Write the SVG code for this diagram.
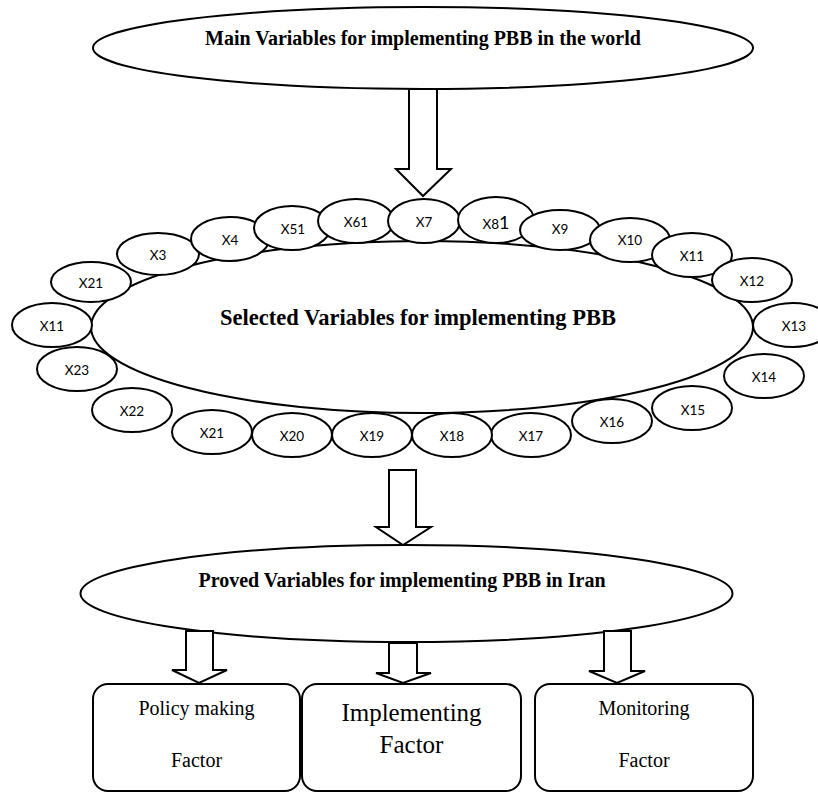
<svg xmlns="http://www.w3.org/2000/svg" width="818" height="793" viewBox="0 0 818 793">
<style>
.shape{fill:#fff;stroke:#000;stroke-width:2}
.big{font-family:'Liberation Serif','Times New Roman',serif;font-weight:bold;font-size:20px;text-anchor:middle;fill:#000}
.sel{font-size:22.5px}
.var{font-family:Lato,'Liberation Sans',sans-serif;font-size:13.5px;text-anchor:middle;fill:#000}
.box{font-family:'Liberation Serif','Times New Roman',serif;font-size:20px;text-anchor:middle;fill:#000}
.boxl{font-family:'Liberation Serif','Times New Roman',serif;font-size:25px;text-anchor:middle;fill:#000}
.one{font-size:18px}
</style>
<rect width="818" height="793" fill="#fff"/>
<g id="main">
<ellipse class="shape" cx="423" cy="48" rx="330" ry="41"/>
<text class="big" x="423" y="45">Main Variables for implementing PBB in the world</text>
</g>
<g id="selected">
<ellipse class="shape" cx="422" cy="327" rx="331" ry="86"/>
<text class="big sel" x="418" y="325">Selected Variables for implementing PBB</text>
</g>
<g id="variables">
<g id="v-x3"><ellipse class="shape" cx="158" cy="254" rx="41" ry="21"/><text class="var" x="158" y="260">X3</text></g>
<g id="v-x4"><ellipse class="shape" cx="230" cy="239" rx="39" ry="22"/><text class="var" x="230" y="245">X4</text></g>
<g id="v-x51"><ellipse class="shape" cx="292" cy="228" rx="38" ry="22"/><text class="var" x="293" y="234">X51</text></g>
<g id="v-x61"><ellipse class="shape" cx="356" cy="221" rx="38" ry="22"/><text class="var" x="356" y="227">X61</text></g>
<g id="v-x7"><ellipse class="shape" cx="424" cy="221" rx="36" ry="22"/><text class="var" x="424" y="227">X7</text></g>
<g id="v-x81"><ellipse class="shape" cx="496" cy="220" rx="38" ry="23"/><text class="var" x="496" y="229">X8<tspan class="one">1</tspan></text></g>
<g id="v-x9"><ellipse class="shape" cx="560" cy="230" rx="40" ry="20"/><text class="var" x="560" y="234">X9</text></g>
<g id="v-x10"><ellipse class="shape" cx="630" cy="240" rx="40" ry="22"/><text class="var" x="630" y="245">X10</text></g>
<g id="v-x11r"><ellipse class="shape" cx="692" cy="255" rx="40" ry="22"/><text class="var" x="692" y="261">X11</text></g>
<g id="v-x12"><ellipse class="shape" cx="752" cy="280" rx="40" ry="22"/><text class="var" x="752" y="286">X12</text></g>
<g id="v-x13"><ellipse class="shape" cx="793" cy="325" rx="40" ry="22"/><text class="var" x="794" y="331">X13</text></g>
<g id="v-x14"><ellipse class="shape" cx="764" cy="376" rx="40" ry="22"/><text class="var" x="764" y="382">X14</text></g>
<g id="v-x15"><ellipse class="shape" cx="692" cy="408" rx="40" ry="22"/><text class="var" x="693" y="415">X15</text></g>
<g id="v-x16"><ellipse class="shape" cx="612" cy="421" rx="40" ry="22"/><text class="var" x="612" y="427">X16</text></g>
<g id="v-x17"><ellipse class="shape" cx="531" cy="435" rx="40" ry="22"/><text class="var" x="531" y="441">X17</text></g>
<g id="v-x18"><ellipse class="shape" cx="452" cy="435" rx="40" ry="22"/><text class="var" x="452" y="441">X18</text></g>
<g id="v-x19"><ellipse class="shape" cx="372" cy="435" rx="40" ry="22"/><text class="var" x="372" y="441">X19</text></g>
<g id="v-x20"><ellipse class="shape" cx="292" cy="435" rx="40" ry="22"/><text class="var" x="292" y="441">X20</text></g>
<g id="v-x21b"><ellipse class="shape" cx="212" cy="432" rx="40" ry="22"/><text class="var" x="212" y="438">X21</text></g>
<g id="v-x22"><ellipse class="shape" cx="132" cy="410" rx="40" ry="22"/><text class="var" x="132" y="416">X22</text></g>
<g id="v-x23"><ellipse class="shape" cx="77" cy="369" rx="40" ry="22"/><text class="var" x="77" y="375">X23</text></g>
<g id="v-x11l"><ellipse class="shape" cx="52" cy="325" rx="40" ry="22"/><text class="var" x="52" y="331">X11</text></g>
<g id="v-x21l"><ellipse class="shape" cx="91" cy="282" rx="40" ry="20"/><text class="var" x="91" y="288">X21</text></g>
</g>
<g id="proved">
<ellipse class="shape" cx="406.5" cy="593.5" rx="326" ry="48.5"/>
<text class="big" x="402" y="587">Proved Variables for implementing PBB in Iran</text>
</g>
<g id="connectors">
<polygon class="shape" points="409,89 437,89 437,169 451,169 423,196 396,169 409,169"/>
<polygon class="shape" points="389,470 416,470 416,527 431,527 403,545 376,527 389,527"/>
<polygon class="shape" points="186,631 213,631 213,670 227,670 199,683 172,670 186,670"/>
<polygon class="shape" points="389,643 417,643 417,673 431,673 403,683 376,673 389,673"/>
<polygon class="shape" points="604,631 631,631 631,671 645,671 617,683 589,671 604,671"/>
</g>
<g id="policy">
<rect class="shape" x="93" y="684" width="207" height="107" rx="15"/>
<text class="box" x="196.5" y="715">Policy making</text>
<text class="box" x="196.5" y="767">Factor</text>
</g>
<g id="implementing">
<rect class="shape" x="302" y="684" width="219" height="107" rx="15"/>
<text class="boxl" x="411.5" y="721">Implementing</text>
<text class="boxl" x="411.5" y="753">Factor</text>
</g>
<g id="monitoring">
<rect class="shape" x="535" y="684" width="218" height="107" rx="15"/>
<text class="box" x="644" y="715">Monitoring</text>
<text class="box" x="644" y="767">Factor</text>
</g>
</svg>
